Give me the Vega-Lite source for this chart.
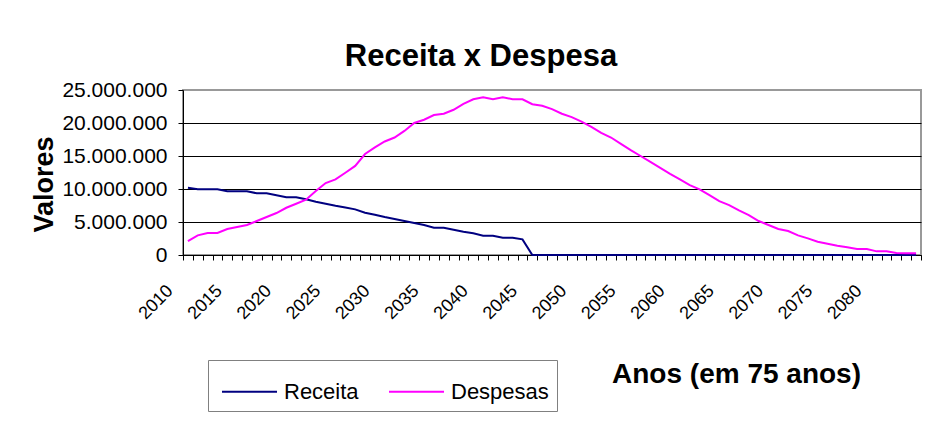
{
  "$schema": "https://vega.github.io/schema/vega-lite/v6.json",
  "width": 738,
  "height": 165,
  "autosize": {"type": "none"},
  "padding": {"left": 183, "top": 90, "right": 14, "bottom": 176},
  "background": "white",
  "title": {
    "text": "Receita x Despesa",
    "font": "Liberation Sans",
    "fontSize": 31,
    "fontWeight": "bold",
    "color": "black",
    "anchor": "middle",
    "frame": "group",
    "dx": -71,
    "offset": 6
  },
  "data": {
    "values": [
      {"ano": 2010, "serie": "Receita", "valor": 10200000},
      {"ano": 2011, "serie": "Receita", "valor": 9950000},
      {"ano": 2012, "serie": "Receita", "valor": 9950000},
      {"ano": 2013, "serie": "Receita", "valor": 9950000},
      {"ano": 2014, "serie": "Receita", "valor": 9650000},
      {"ano": 2015, "serie": "Receita", "valor": 9650000},
      {"ano": 2016, "serie": "Receita", "valor": 9650000},
      {"ano": 2017, "serie": "Receita", "valor": 9350000},
      {"ano": 2018, "serie": "Receita", "valor": 9350000},
      {"ano": 2019, "serie": "Receita", "valor": 9050000},
      {"ano": 2020, "serie": "Receita", "valor": 8750000},
      {"ano": 2021, "serie": "Receita", "valor": 8750000},
      {"ano": 2022, "serie": "Receita", "valor": 8450000},
      {"ano": 2023, "serie": "Receita", "valor": 8070000},
      {"ano": 2024, "serie": "Receita", "valor": 7770000},
      {"ano": 2025, "serie": "Receita", "valor": 7470000},
      {"ano": 2026, "serie": "Receita", "valor": 7210000},
      {"ano": 2027, "serie": "Receita", "valor": 6910000},
      {"ano": 2028, "serie": "Receita", "valor": 6410000},
      {"ano": 2029, "serie": "Receita", "valor": 6100000},
      {"ano": 2030, "serie": "Receita", "valor": 5750000},
      {"ano": 2031, "serie": "Receita", "valor": 5450000},
      {"ano": 2032, "serie": "Receita", "valor": 5150000},
      {"ano": 2033, "serie": "Receita", "valor": 4840000},
      {"ano": 2034, "serie": "Receita", "valor": 4540000},
      {"ano": 2035, "serie": "Receita", "valor": 4140000},
      {"ano": 2036, "serie": "Receita", "valor": 4140000},
      {"ano": 2037, "serie": "Receita", "valor": 3830000},
      {"ano": 2038, "serie": "Receita", "valor": 3530000},
      {"ano": 2039, "serie": "Receita", "valor": 3280000},
      {"ano": 2040, "serie": "Receita", "valor": 2930000},
      {"ano": 2041, "serie": "Receita", "valor": 2930000},
      {"ano": 2042, "serie": "Receita", "valor": 2620000},
      {"ano": 2043, "serie": "Receita", "valor": 2620000},
      {"ano": 2044, "serie": "Receita", "valor": 2370000},
      {"ano": 2045, "serie": "Receita", "valor": 0},
      {"ano": 2046, "serie": "Receita", "valor": 0},
      {"ano": 2047, "serie": "Receita", "valor": 0},
      {"ano": 2048, "serie": "Receita", "valor": 0},
      {"ano": 2049, "serie": "Receita", "valor": 0},
      {"ano": 2050, "serie": "Receita", "valor": 0},
      {"ano": 2051, "serie": "Receita", "valor": 0},
      {"ano": 2052, "serie": "Receita", "valor": 0},
      {"ano": 2053, "serie": "Receita", "valor": 0},
      {"ano": 2054, "serie": "Receita", "valor": 0},
      {"ano": 2055, "serie": "Receita", "valor": 0},
      {"ano": 2056, "serie": "Receita", "valor": 0},
      {"ano": 2057, "serie": "Receita", "valor": 0},
      {"ano": 2058, "serie": "Receita", "valor": 0},
      {"ano": 2059, "serie": "Receita", "valor": 0},
      {"ano": 2060, "serie": "Receita", "valor": 0},
      {"ano": 2061, "serie": "Receita", "valor": 0},
      {"ano": 2062, "serie": "Receita", "valor": 0},
      {"ano": 2063, "serie": "Receita", "valor": 0},
      {"ano": 2064, "serie": "Receita", "valor": 0},
      {"ano": 2065, "serie": "Receita", "valor": 0},
      {"ano": 2066, "serie": "Receita", "valor": 0},
      {"ano": 2067, "serie": "Receita", "valor": 0},
      {"ano": 2068, "serie": "Receita", "valor": 0},
      {"ano": 2069, "serie": "Receita", "valor": 0},
      {"ano": 2070, "serie": "Receita", "valor": 0},
      {"ano": 2071, "serie": "Receita", "valor": 0},
      {"ano": 2072, "serie": "Receita", "valor": 0},
      {"ano": 2073, "serie": "Receita", "valor": 0},
      {"ano": 2074, "serie": "Receita", "valor": 0},
      {"ano": 2075, "serie": "Receita", "valor": 0},
      {"ano": 2076, "serie": "Receita", "valor": 0},
      {"ano": 2077, "serie": "Receita", "valor": 0},
      {"ano": 2078, "serie": "Receita", "valor": 0},
      {"ano": 2079, "serie": "Receita", "valor": 0},
      {"ano": 2080, "serie": "Receita", "valor": 0},
      {"ano": 2081, "serie": "Receita", "valor": 0},
      {"ano": 2082, "serie": "Receita", "valor": 0},
      {"ano": 2083, "serie": "Receita", "valor": 0},
      {"ano": 2084, "serie": "Receita", "valor": 0},
      {"ano": 2010, "serie": "Despesas", "valor": 2100000},
      {"ano": 2011, "serie": "Despesas", "valor": 2980000},
      {"ano": 2012, "serie": "Despesas", "valor": 3330000},
      {"ano": 2013, "serie": "Despesas", "valor": 3330000},
      {"ano": 2014, "serie": "Despesas", "valor": 3940000},
      {"ano": 2015, "serie": "Despesas", "valor": 4240000},
      {"ano": 2016, "serie": "Despesas", "valor": 4540000},
      {"ano": 2017, "serie": "Despesas", "valor": 5150000},
      {"ano": 2018, "serie": "Despesas", "valor": 5750000},
      {"ano": 2019, "serie": "Despesas", "valor": 6360000},
      {"ano": 2020, "serie": "Despesas", "valor": 7160000},
      {"ano": 2021, "serie": "Despesas", "valor": 7770000},
      {"ano": 2022, "serie": "Despesas", "valor": 8370000},
      {"ano": 2023, "serie": "Despesas", "valor": 9690000},
      {"ano": 2024, "serie": "Despesas", "valor": 10900000},
      {"ano": 2025, "serie": "Despesas", "valor": 11450000},
      {"ano": 2026, "serie": "Despesas", "valor": 12460000},
      {"ano": 2027, "serie": "Despesas", "valor": 13500000},
      {"ano": 2028, "serie": "Despesas", "valor": 15300000},
      {"ano": 2029, "serie": "Despesas", "valor": 16300000},
      {"ano": 2030, "serie": "Despesas", "valor": 17200000},
      {"ano": 2031, "serie": "Despesas", "valor": 17800000},
      {"ano": 2032, "serie": "Despesas", "valor": 18800000},
      {"ano": 2033, "serie": "Despesas", "valor": 20000000},
      {"ano": 2034, "serie": "Despesas", "valor": 20500000},
      {"ano": 2035, "serie": "Despesas", "valor": 21200000},
      {"ano": 2036, "serie": "Despesas", "valor": 21400000},
      {"ano": 2037, "serie": "Despesas", "valor": 22000000},
      {"ano": 2038, "serie": "Despesas", "valor": 22900000},
      {"ano": 2039, "serie": "Despesas", "valor": 23600000},
      {"ano": 2040, "serie": "Despesas", "valor": 23900000},
      {"ano": 2041, "serie": "Despesas", "valor": 23600000},
      {"ano": 2042, "serie": "Despesas", "valor": 23900000},
      {"ano": 2043, "serie": "Despesas", "valor": 23600000},
      {"ano": 2044, "serie": "Despesas", "valor": 23600000},
      {"ano": 2045, "serie": "Despesas", "valor": 22850000},
      {"ano": 2046, "serie": "Despesas", "valor": 22600000},
      {"ano": 2047, "serie": "Despesas", "valor": 22100000},
      {"ano": 2048, "serie": "Despesas", "valor": 21400000},
      {"ano": 2049, "serie": "Despesas", "valor": 20900000},
      {"ano": 2050, "serie": "Despesas", "valor": 20200000},
      {"ano": 2051, "serie": "Despesas", "valor": 19400000},
      {"ano": 2052, "serie": "Despesas", "valor": 18500000},
      {"ano": 2053, "serie": "Despesas", "valor": 17800000},
      {"ano": 2054, "serie": "Despesas", "valor": 16850000},
      {"ano": 2055, "serie": "Despesas", "valor": 15900000},
      {"ano": 2056, "serie": "Despesas", "valor": 15000000},
      {"ano": 2057, "serie": "Despesas", "valor": 14100000},
      {"ano": 2058, "serie": "Despesas", "valor": 13200000},
      {"ano": 2059, "serie": "Despesas", "valor": 12300000},
      {"ano": 2060, "serie": "Despesas", "valor": 11450000},
      {"ano": 2061, "serie": "Despesas", "valor": 10600000},
      {"ano": 2062, "serie": "Despesas", "valor": 9940000},
      {"ano": 2063, "serie": "Despesas", "valor": 9080000},
      {"ano": 2064, "serie": "Despesas", "valor": 8170000},
      {"ano": 2065, "serie": "Despesas", "valor": 7570000},
      {"ano": 2066, "serie": "Despesas", "valor": 6760000},
      {"ano": 2067, "serie": "Despesas", "valor": 6050000},
      {"ano": 2068, "serie": "Despesas", "valor": 5150000},
      {"ano": 2069, "serie": "Despesas", "valor": 4540000},
      {"ano": 2070, "serie": "Despesas", "valor": 3940000},
      {"ano": 2071, "serie": "Despesas", "valor": 3630000},
      {"ano": 2072, "serie": "Despesas", "valor": 2980000},
      {"ano": 2073, "serie": "Despesas", "valor": 2520000},
      {"ano": 2074, "serie": "Despesas", "valor": 2020000},
      {"ano": 2075, "serie": "Despesas", "valor": 1720000},
      {"ano": 2076, "serie": "Despesas", "valor": 1410000},
      {"ano": 2077, "serie": "Despesas", "valor": 1160000},
      {"ano": 2078, "serie": "Despesas", "valor": 910000},
      {"ano": 2079, "serie": "Despesas", "valor": 910000},
      {"ano": 2080, "serie": "Despesas", "valor": 550000},
      {"ano": 2081, "serie": "Despesas", "valor": 550000},
      {"ano": 2082, "serie": "Despesas", "valor": 300000},
      {"ano": 2083, "serie": "Despesas", "valor": 250000},
      {"ano": 2084, "serie": "Despesas", "valor": 250000}
    ]
  },
  "mark": {"type": "line", "strokeWidth": 2, "interpolate": "linear"},
  "encoding": {
    "x": {
      "field": "ano",
      "type": "ordinal",
      "bandPosition": 0.5,
      "scale": {"type": "band", "paddingInner": 0, "paddingOuter": 0},
      "axis": {
        "title": "Anos (em 75 anos)",
        "titleFont": "Liberation Sans",
        "titleFontSize": 28,
        "titleFontWeight": "bold",
        "titleColor": "black",
        "titleX": 553,
        "titleY": 127,
        "titleAlign": "center",
        "titleBaseline": "alphabetic",
        "labelExpr": "datum.value % 5 === 0 ? datum.label : ''",
        "labelAngle": -45,
        "labelAlign": "right",
        "labelBaseline": "middle",
        "labelOffset": -18,
        "labelPadding": 28,
        "labelFont": "Liberation Sans",
        "labelFontSize": 18,
        "labelColor": "black",
        "labelOverlap": false,
        "labelBound": false,
        "tickBand": "extent",
        "tickSize": 5,
        "tickColor": "black",
        "domainColor": "black",
        "grid": false
      }
    },
    "y": {
      "field": "valor",
      "type": "quantitative",
      "scale": {"domain": [0, 25000000], "nice": false},
      "axis": {
        "title": "Valores",
        "titleFont": "Liberation Sans",
        "titleFontSize": 27,
        "titleFontWeight": "bold",
        "titleColor": "black",
        "titleAngle": -90,
        "titleX": -139,
        "titleY": 94,
        "titleAlign": "center",
        "titleBaseline": "middle",
        "values": [0, 5000000, 10000000, 15000000, 20000000, 25000000],
        "format": ",d",
        "labelFont": "Liberation Sans",
        "labelFontSize": 21,
        "labelColor": "black",
        "labelPadding": 11,
        "tickSize": 5,
        "tickColor": "black",
        "domainColor": "black",
        "grid": true,
        "gridColor": {"condition": {"test": "datum.value >= 25000000", "value": "#999999"}, "value": "black"},
        "gridOpacity": 1,
        "gridWidth": 1
      }
    },
    "color": {
      "field": "serie",
      "type": "nominal",
      "scale": {"domain": ["Receita", "Despesas"], "range": ["#000080", "#FF00FF"]},
      "legend": {
        "title": null,
        "orient": "none",
        "legendX": 25,
        "legendY": 270,
        "direction": "horizontal",
        "symbolType": "M-0.778,0H1.667",
        "symbolSize": 2025,
        "symbolStrokeWidth": 2,
        "labelFont": "Liberation Sans",
        "labelFontSize": 22,
        "labelColor": "black",
        "labelOffset": 21,
        "columnPadding": 24,
        "padding": 8,
        "strokeColor": "#808080",
        "fillColor": "white"
      }
    }
  },
  "config": {
    "locale": {"number": {"decimal": ",", "thousands": ".", "grouping": [3], "currency": ["R$ ", ""]}},
    "view": {"stroke": "#999999", "strokeWidth": 2}
  }
}
